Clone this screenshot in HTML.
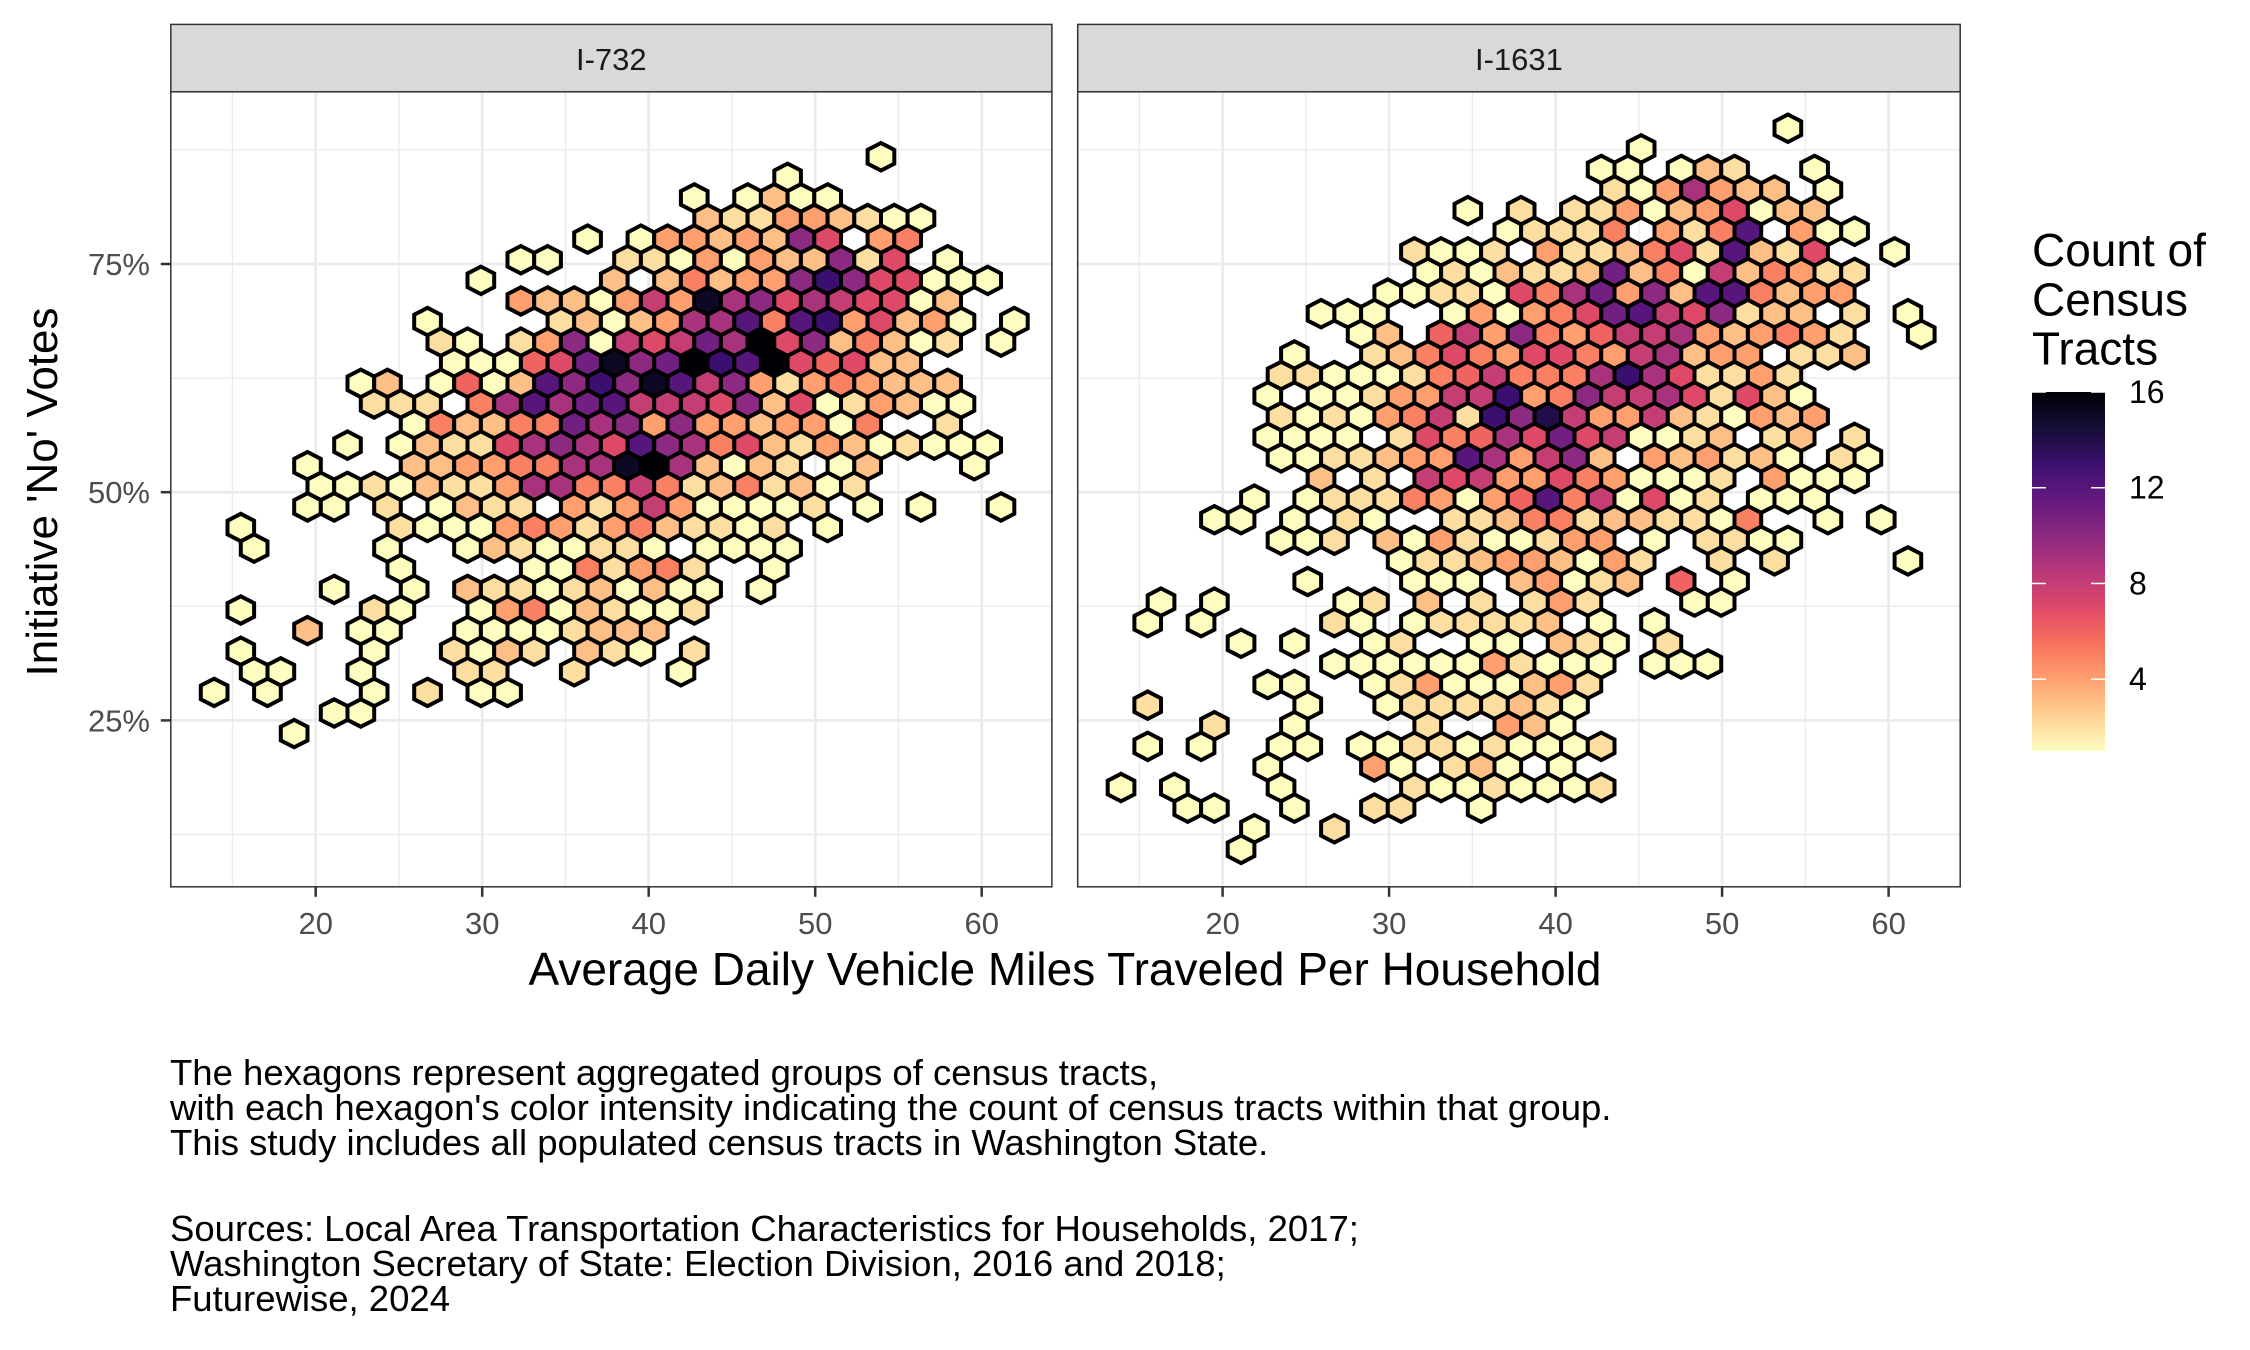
<!DOCTYPE html>
<html><head><meta charset="utf-8"><style>
html,body{margin:0;padding:0;background:#fff;}
svg{display:block;font-family:"Liberation Sans",Arial,sans-serif;}
</style></head><body>
<svg id="chart" width="2250" height="1350" viewBox="0 0 2250 1350" xmlns="http://www.w3.org/2000/svg">
<defs>
<clipPath id="clip1"><rect x="170.8" y="91.8" width="881.1" height="795"/></clipPath>
<clipPath id="clip2"><rect x="1077.7" y="91.8" width="882.5" height="795"/></clipPath>
<linearGradient id="legGrad" x1="0" y1="1" x2="0" y2="0"></linearGradient>
</defs>
<g id="root"></g>
</svg>
<script>
// ---- data (hex-bin counts per grid row; '.'=0, 1-9, a=10 ... g=16) ----
const panelNames = ["I-732", "I-1631"];
const binWidthX = 1.602;      // miles per hex column
const binHeightY = 2.257;     // % per hex row
const binOriginX = [13.9, 13.9];   // data x of column 0 (even rows)
const binOriginY = [86.75, 89.87]; // data y of row 0
const countsI732 = [
".........................1",
"......................1",
"..................1.1311",
"...................322443211",
"..............1.144343a7.45",
"............11..22141433a27.1",
"..........1....3.35344ada77111",
"............4331484f9a7987713",
"........1....2313499c5cd47341.1",
".........21.24a1878b9g7a35312.1",
".........11167bfabgdcg76733",
"......13.1613cadafc8a42454333",
"......222.59c9bc8887a37124311",
"........153355b9a4a4434415..2",
".....1.132279a97ca957324312111",
"....1...33445599fg93132.13...1",
"....112132249955852352312",
"....11.2.1322.4248411112.1.1..1",
".1.....211145424532212.1",
"..1....1..13211221.1111",
".......1....1152452..1",
".....1..1.3221231311.1",
".1....21..145132112",
"....3.11..11112333",
".1....1..2132.321.2",
"..11..1...22..2...1",
"1.1...1.2.11",
".....11",
"...1"
];
const countsI1631 = [
".........................1",
"....................1",
"..................11.132..1",
"...................2149433.1",
".............1.2.2241347133",
"...............12225.425c.411",
"...........2112.4223572c327..1",
"............1213223b351835422",
"..........11221759b4a3cc5344",
"........111..141457bc87a233.2.1",
".........13.684a546889434542..1",
".......1..235754775489344.223",
"......2211125685559d972242",
"......1.1124488d45a88972731",
"......21214582dae8448321434",
"......1111.275697b781123.23.2",
"......1122344c948a3.434231.21",
"........3.2.878447541112.4111",
".....1.122254146c581712.111",
"....11.1.21..223552332215..1.1",
"......112.314211244.1.2211",
"...........1223443142..2.2....1",
".......1...111.34123.6.1",
"..1.1....12.3.2.242...11",
".1.1....21.122223.1.1",
".....1.1..12..11.321.2",
"........11111142111.111",
"......11..124111342",
".2.....1..12222321",
"....2..1....2..431",
".1.1..11.1122121112",
"......1...41.231.1",
"1.1...1....21121112",
"...11..1..22..1",
".....1..2",
".....1"
];
const xTicks = [20, 30, 40, 50, 60];
const xMinor = [15, 25, 35, 45, 55];
const yTicks = [25, 50, 75];
const yTickLabels = ["25%", "50%", "75%"];
const yMinor = [12.5, 37.5, 62.5, 87.5];
const legendTicks = [4, 8, 12, 16];
const countMin = 1, countMax = 16;

// ---- scales ----
const NS = "http://www.w3.org/2000/svg";
const panelX0 = [315.7, 1222.6]; // pixel of x=20
const pxPerX = 16.65;
const yPx50 = 492.2, pxPerY = 9.128;
function xScale(p, v){ return panelX0[p] + (v - 20) * pxPerX; }
function yScale(v){ return yPx50 - (v - 50) * pxPerY; }
const magmaStops = ["#000004","#140E36","#3B0F70","#641A80","#8C2981","#B73779","#DE4968","#F7705C","#FE9F6D","#FECF92","#FCFDBF"];
function hex2rgb(h){return [parseInt(h.slice(1,3),16),parseInt(h.slice(3,5),16),parseInt(h.slice(5,7),16)];}
function magma(t){
  t=Math.max(0,Math.min(1,t)); const s=t*10, i=Math.min(9,Math.floor(s)), f=s-i;
  const a=hex2rgb(magmaStops[i]), b=hex2rgb(magmaStops[i+1]);
  return "rgb("+a.map((v,k)=>Math.round(v+(b[k]-v)*f)).join(",")+")";
}
function colorFor(c){ return magma(1 - (c - countMin) / (countMax - countMin)); }
function codeToCount(ch){ if(ch===".") return 0; if(ch>="1"&&ch<="9") return +ch; return ch.charCodeAt(0)-87; }

const rootG = document.getElementById("root");
function mk(tag, attrs, parent){ const e=document.createElementNS(NS,tag); for(const k in attrs) e.setAttribute(k, attrs[k]); (parent||rootG).appendChild(e); return e; }

const panels = [{left:170.8,right:1051.9,data:countsI732},{left:1077.7,right:1960.2,data:countsI1631}];
const panelTop=91.8, panelBottom=886.8;

panels.forEach((P, p) => {
  const g = mk("g", {});
  
  
  const strip = mk("rect", {x:P.left, y:24.4, width:P.right-P.left, height:panelTop-24.4, fill:"#D9D9D9", stroke:"#333", "stroke-width":1.5}, g);
  
  
  const st = mk("text", {x:(P.left+P.right)/2, y:70, "text-anchor":"middle", "font-size":31, fill:"#1A1A1A"}, g);
  st.textContent = panelNames[p];
  
  
  mk("rect", {x:P.left, y:panelTop, width:P.right-P.left, height:panelBottom-panelTop, fill:"#fff"}, g);
  xMinor.forEach(v => { const x=xScale(p,v); mk("line",{x1:x,x2:x,y1:panelTop,y2:panelBottom,stroke:"#EBEBEB","stroke-width":1.4},g); });
  yMinor.forEach(v => { const y=yScale(v); mk("line",{x1:P.left,x2:P.right,y1:y,y2:y,stroke:"#EBEBEB","stroke-width":1.4},g); });
  xTicks.forEach(v => { const x=xScale(p,v); const l=mk("line",{x1:x,x2:x,y1:panelTop,y2:panelBottom,stroke:"#EBEBEB","stroke-width":2.8},g);   });
  yTicks.forEach(v => { const y=yScale(v); const l=mk("line",{x1:P.left,x2:P.right,y1:y,y2:y,stroke:"#EBEBEB","stroke-width":2.8},g);   });
  const hg = mk("g", {"clip-path":"url(#clip"+(p+1)+")"}, g);
  const hw = binWidthX*pxPerX/2, R = binHeightY*pxPerY/1.5;
  P.data.forEach((row, r) => {
    for (let j=0;j<row.length;j++){
      const c = codeToCount(row[j]); if(!c) continue;
      const vx = binOriginX[p] + j*binWidthX - (r%2 ? binWidthX/2 : 0);
      const vy = binOriginY[p] - r*binHeightY;
      const cx = xScale(p, vx), cy = yScale(vy);
      const pts = [[0,-R],[hw,-R/2],[hw,R/2],[0,R],[-hw,R/2],[-hw,-R/2]].map(q=>(cx+q[0]).toFixed(1)+","+(cy+q[1]).toFixed(1)).join(" ");
      const h = mk("polygon", {points:pts, fill:colorFor(c), stroke:"#000", "stroke-width":4, "stroke-linejoin":"miter"}, hg);
      
      
    }
  });
  mk("rect", {x:P.left, y:panelTop, width:P.right-P.left, height:panelBottom-panelTop, fill:"none", stroke:"#333", "stroke-width":1.5}, g);
  xTicks.forEach(v => {
    const x=xScale(p,v);
    mk("line",{x1:x,x2:x,y1:panelBottom,y2:panelBottom+10,stroke:"#333","stroke-width":2.5},g);
    const t=mk("text",{x:x,y:934,"text-anchor":"middle","font-size":31,fill:"#4D4D4D"},g);
    t.textContent=v;
    
    
  });
});
yTicks.forEach((v,i) => {
  const y=yScale(v);
  mk("line",{x1:160.8,x2:170.8,y1:y,y2:y,stroke:"#333","stroke-width":2.5});
  const t=mk("text",{x:150,y:y+11,"text-anchor":"end","font-size":31,fill:"#4D4D4D"});
  t.textContent=yTickLabels[i];
  
  
});
const xt=mk("text",{x:1065,y:985,"text-anchor":"middle","font-size":46,fill:"#000"});
xt.textContent="Average Daily Vehicle Miles Traveled Per Household";


const yt=mk("text",{x:0,y:0,"text-anchor":"middle","font-size":44,fill:"#000",transform:"translate(57,492) rotate(-90)"});
yt.textContent="Initiative 'No' Votes";


const lg = mk("g",{});


["Count of","Census","Tracts"].forEach((s,i)=>{
  const t=mk("text",{x:2032,y:266+i*49.3,"font-size":46,fill:"#000"},lg);
  t.textContent=s;
  
  
});
const grad=document.getElementById("legGrad");
for(let k=0;k<=20;k++){ const c=countMin+(countMax-countMin)*k/20; const s=document.createElementNS(NS,"stop"); s.setAttribute("offset",(k/20)); s.setAttribute("stop-color",colorFor(c)); grad.appendChild(s); }
const legTop=392, legBot=751, legX=2032, legW=73;
function lScale(v){ return legBot - (v-countMin)/(countMax-countMin)*(legBot-legTop); }
const bar=mk("rect",{x:legX,y:legTop,width:legW,height:legBot-legTop,fill:"url(#legGrad)"},lg);


legendTicks.forEach(v=>{
  const y=lScale(v);
  mk("line",{x1:legX,x2:legX+14,y1:y,y2:y,stroke:"#fff","stroke-width":1.5},lg);
  mk("line",{x1:legX+legW-14,x2:legX+legW,y1:y,y2:y,stroke:"#fff","stroke-width":1.5},lg);
  const t=mk("text",{x:2129,y:y+11,"font-size":32,fill:"#000"},lg);
  t.textContent=v;
  
  
});
const cap=["The hexagons represent aggregated groups of census tracts,",
"with each hexagon's color intensity indicating the count of census tracts within that group.",
"This study includes all populated census tracts in Washington State.",
"",
"Sources: Local Area Transportation Characteristics for Households, 2017;",
"Washington Secretary of State: Election Division, 2016 and 2018;",
"Futurewise, 2024"];
const capY=[1085,1120,1155,0,1241,1276,1311];
cap.forEach((s,i)=>{ if(!s) return;
  const t=mk("text",{x:170,y:capY[i],"font-size":36.5,fill:"#000"});
  t.textContent=s;
  
  
});
</script>
</body></html>
